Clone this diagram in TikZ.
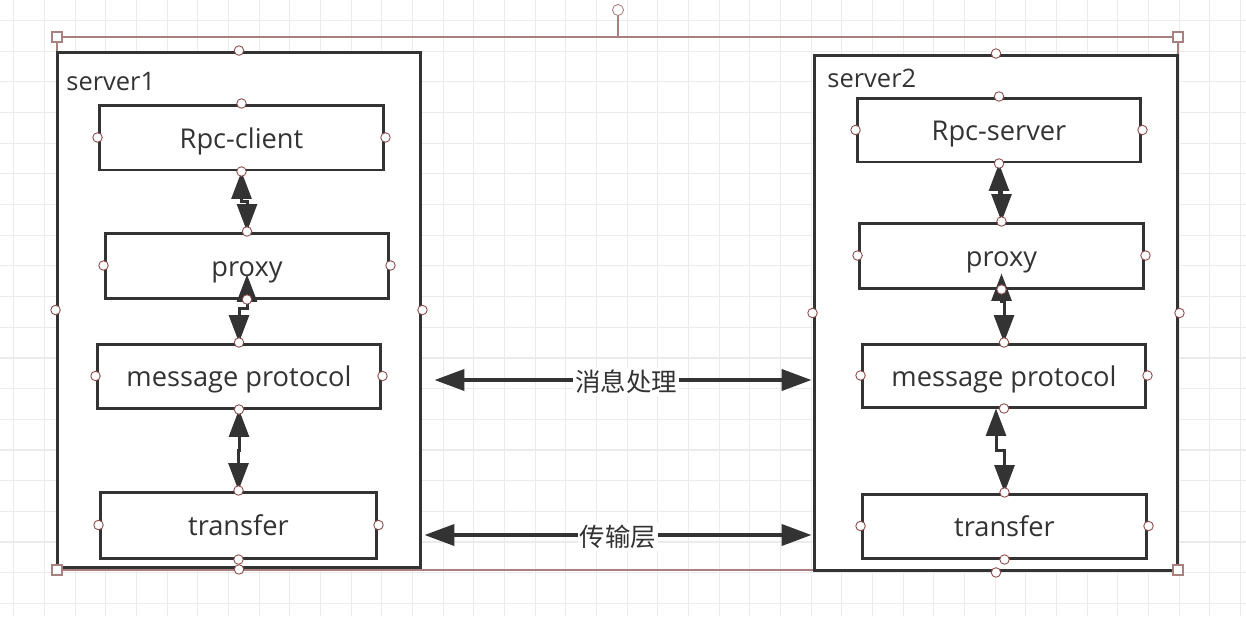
\documentclass[tikz,border=0pt]{standalone}
\usepackage{fontspec}
\setmainfont{Open Sans}
\newfontfamily\cjk{Noto Sans CJK SC}
\usepackage{tikz}
\usetikzlibrary{calc,arrows.meta}

\definecolor{ink}{HTML}{333333}
\definecolor{gridgray}{HTML}{EBEBEB}
\definecolor{selred}{HTML}{A88080}
\definecolor{handlered}{HTML}{8E4B4B}

\tikzset{
  server/.style={draw=ink, line width=0.06cm, fill=white, minimum width=7.28cm, minimum height=10.32cm},
  layer/.style={draw=ink, line width=0.06cm, fill=white, text=ink, minimum height=1.3cm, inner sep=0pt,
    font=\fontsize{15.5}{18}\selectfont, text height=0.52cm, text depth=0.1cm},
  link/.style={draw=ink, line width=0.06cm, {Triangle[length=0.55cm,width=0.4cm]}-{Triangle[length=0.55cm,width=0.4cm]}},
  bus/.style={draw=ink, line width=0.08cm, {Triangle[length=0.6cm,width=0.42cm]}-{Triangle[length=0.6cm,width=0.42cm]}},
  handle/.style={circle, draw=handlered, fill=white, line width=0.5pt, inner sep=0pt, minimum size=0.19cm},
  corner/.style={rectangle, draw=selred, fill=white, line width=0.6pt, inner sep=0pt, minimum size=0.2cm},
}

\begin{document}
\begin{tikzpicture}[x=0.02cm, y=-0.02cm, font=\fontsize{14.5}{17}\selectfont]
	\useasboundingbox (0,0) rectangle (1246,616);

	% grid
	\foreach \k in {0,...,40}
		\draw[gridgray, line width=0.6pt] ({13.8+30.67*\k},0) -- ({13.8+30.67*\k},616);
	\foreach \k in {0,...,19}
		\draw[gridgray, line width=0.6pt] (0,{20.6+30.67*\k}) -- (1246,{20.6+30.67*\k});

	% selection frame
	\coordinate (fnw) at (57,37);
	\coordinate (fne) at (1178,37);
	\coordinate (fsw) at (57,570);
	\coordinate (fse) at (1178,570);
	\coordinate (ftop) at (618,37);
	\draw[selred, line width=0.6pt] (fnw) rectangle (fse);
	\node[handle, draw=selred, minimum size=0.22cm] (rot) at (618,10) {};
	\draw[selred, line width=0.6pt] (rot) -- (ftop);

	% servers
	\node[server] (s1) at (239,310) {};
	\node[server] (s2) at (996,313) {};
	\node[anchor=west, inner sep=0pt, text=ink] (s1label) at (66,82) {server1};
	\node[anchor=west, inner sep=0pt, text=ink] (s2label) at (827,78) {server2};

	% layers
	\node[layer, minimum width=5.7cm] (rc) at (241.5,137.5) {Rpc-client};
	\node[layer, minimum width=5.68cm] (p1) at (247,265.5) {proxy};
	\node[layer, minimum width=5.68cm, minimum height=1.28cm] (m1) at (239,376) {message protocol};
	\node[layer, minimum width=5.54cm, minimum height=1.32cm] (t1) at (238.5,525) {transfer};

	\node[layer, minimum width=5.68cm, minimum height=1.28cm] (rs) at (999,130) {Rpc-server};
	\node[layer, minimum width=5.7cm] (p2) at (1001.5,255.5) {proxy};
	\node[layer, minimum width=5.68cm, minimum height=1.26cm] (m2) at (1004,375.5) {message protocol};
	\node[layer, minimum width=5.7cm, minimum height=1.28cm] (t2) at (1004.5,526) {transfer};

	% links
	\coordinate (p1in) at ($(p1.south)+(0,-25)$);
	\coordinate (p2in) at ($(p2.south)+(0,-16)$);
	\coordinate (m2out) at ($(m2.south)+(-8,0)$);
	\draw[link] (rc.south) |- ($(rc.south)!0.5!(p1.north)$) -| (p1.north);
	\draw[link] (p1in) |- ($(p1in)!0.5!(m1.north)$) -| (m1.north);
	\draw[link] (m1.south) |- ($(m1.south)!0.5!(t1.north)$) -| (t1.north);
	\draw[link] (rs.south) |- ($(rs.south)!0.5!(p2.north)$) -| (p2.north);
	\draw[link] (p2in) |- ($(p2in)!0.4!(m2.north)$) -| (m2.north);
	\draw[link] (m2out) |- ($(m2out)!0.5!(t2.north)$) -| (t2.north);

	\draw[bus] ($(s1.east)+(12,70)$) -- node[fill=white, inner sep=1pt, text=ink, xshift=0.06cm, yshift=-0.04cm] {\cjk 消息处理} ($(s2.west)+(-1,67)$);
	\draw[bus] ($(s1.east)+(2,225)$) -- node[fill=white, inner sep=1pt, text=ink, yshift=-0.04cm] {\cjk 传输层} ($(s2.west)+(-1,222)$);

	% handles
	\foreach \n in {s1,s2,rc,p1,m1,t1,rs,p2,m2,t2}
		\foreach \a in {north,south,east,west}
			\node[handle] at (\n.\a) {};
	\foreach \c in {fnw,fne,fsw,fse}
		\node[corner] at (\c) {};
\end{tikzpicture}
\end{document}
